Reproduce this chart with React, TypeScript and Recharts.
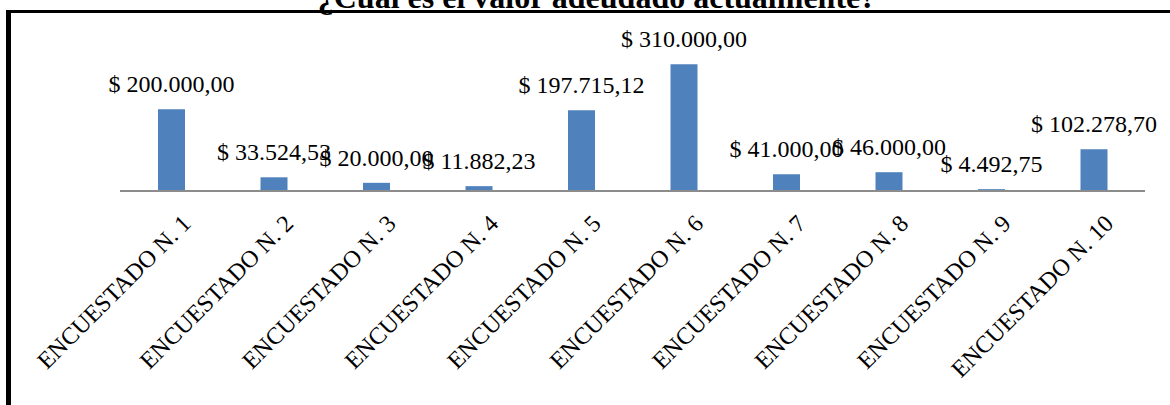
import React from 'react';
import { BarChart, Bar, XAxis, YAxis, LabelList } from 'recharts';

const categories = [
  'ENCUESTADO N. 1',
  'ENCUESTADO N. 2',
  'ENCUESTADO N. 3',
  'ENCUESTADO N. 4',
  'ENCUESTADO N. 5',
  'ENCUESTADO N. 6',
  'ENCUESTADO N. 7',
  'ENCUESTADO N. 8',
  'ENCUESTADO N. 9',
  'ENCUESTADO N. 10',
];
const values = [200000, 33524.53, 20000, 11882.23, 197715.12, 310000, 41000, 46000, 4492.75, 102278.7];
const yDomain = [0, 350000];

const title = '¿Cuál es el valor adeudado actualmente?';
const FONT = '"Liberation Serif", "Times New Roman", serif';

const data = categories.map((name, i) => ({ name, value: values[i] }));

// 200000 -> "$ 200.000,00"
const formatMoney = (v: number) => {
  const [int, dec] = v.toFixed(2).split('.');
  const withDots = int.replace(/\B(?=(\d{3})+(?!\d))/g, '.');
  return `$ ${withDots},${dec}`;
};

const RotatedTick = (props: any) => {
  const { x, y, payload } = props;
  const tx = x + 21;
  const ty = y + 34;
  return (
    <text
      x={tx}
      y={ty}
      transform={`rotate(-45, ${tx}, ${ty})`}
      textAnchor="end"
      fontFamily={FONT}
      fontSize={24}
      fill="#000"
    >
      {payload.value}
    </text>
  );
};

// single-line value label, baseline 17px above the bar top
const ValueLabel = (props: any) => {
  const { x, y, width, value } = props;
  return (
    <text x={x + width / 2} y={y - 17} textAnchor="middle" fontFamily={FONT} fontSize={24} fill="#000">
      {formatMoney(Number(value))}
    </text>
  );
};

const App = () => {
  return (
    <div style={{ position: 'relative', width: 1170, height: 405, overflow: 'hidden', background: '#fff' }}>
      <style>{`html, body { margin: 0; padding: 0; }`}</style>
      <div style={{ position: 'absolute', left: 0, top: 0 }}>
        <BarChart width={1170} height={405} data={data} margin={{ top: 48, right: 25, bottom: 0, left: 120 }}>
          <XAxis
            dataKey="name"
            height={214}
            interval={0}
            tickLine={false}
            tickSize={0}
            tickMargin={0}
            axisLine={{ stroke: '#8c8c8c', strokeWidth: 2 }}
            tick={<RotatedTick />}
          />
          <YAxis hide domain={yDomain} />
          <Bar dataKey="value" fill="#4f81bd" barSize={27} isAnimationActive={false}>
            <LabelList dataKey="value" content={<ValueLabel />} />
          </Bar>
        </BarChart>
      </div>
      <svg width={1170} height={405} style={{ position: 'absolute', left: 0, top: 0, pointerEvents: 'none' }}>
        <line x1={8.5} y1={11.5} x2={1170} y2={11.5} stroke="#000" strokeWidth={3} />
        <line x1={8.5} y1={10} x2={8.5} y2={405} stroke="#000" strokeWidth={5} />
        <text x={597} y={8} textAnchor="middle" fontFamily={FONT} fontWeight="bold" fontSize={32} fill="#000">
          {title}
        </text>
      </svg>
    </div>
  );
};

export default App;
